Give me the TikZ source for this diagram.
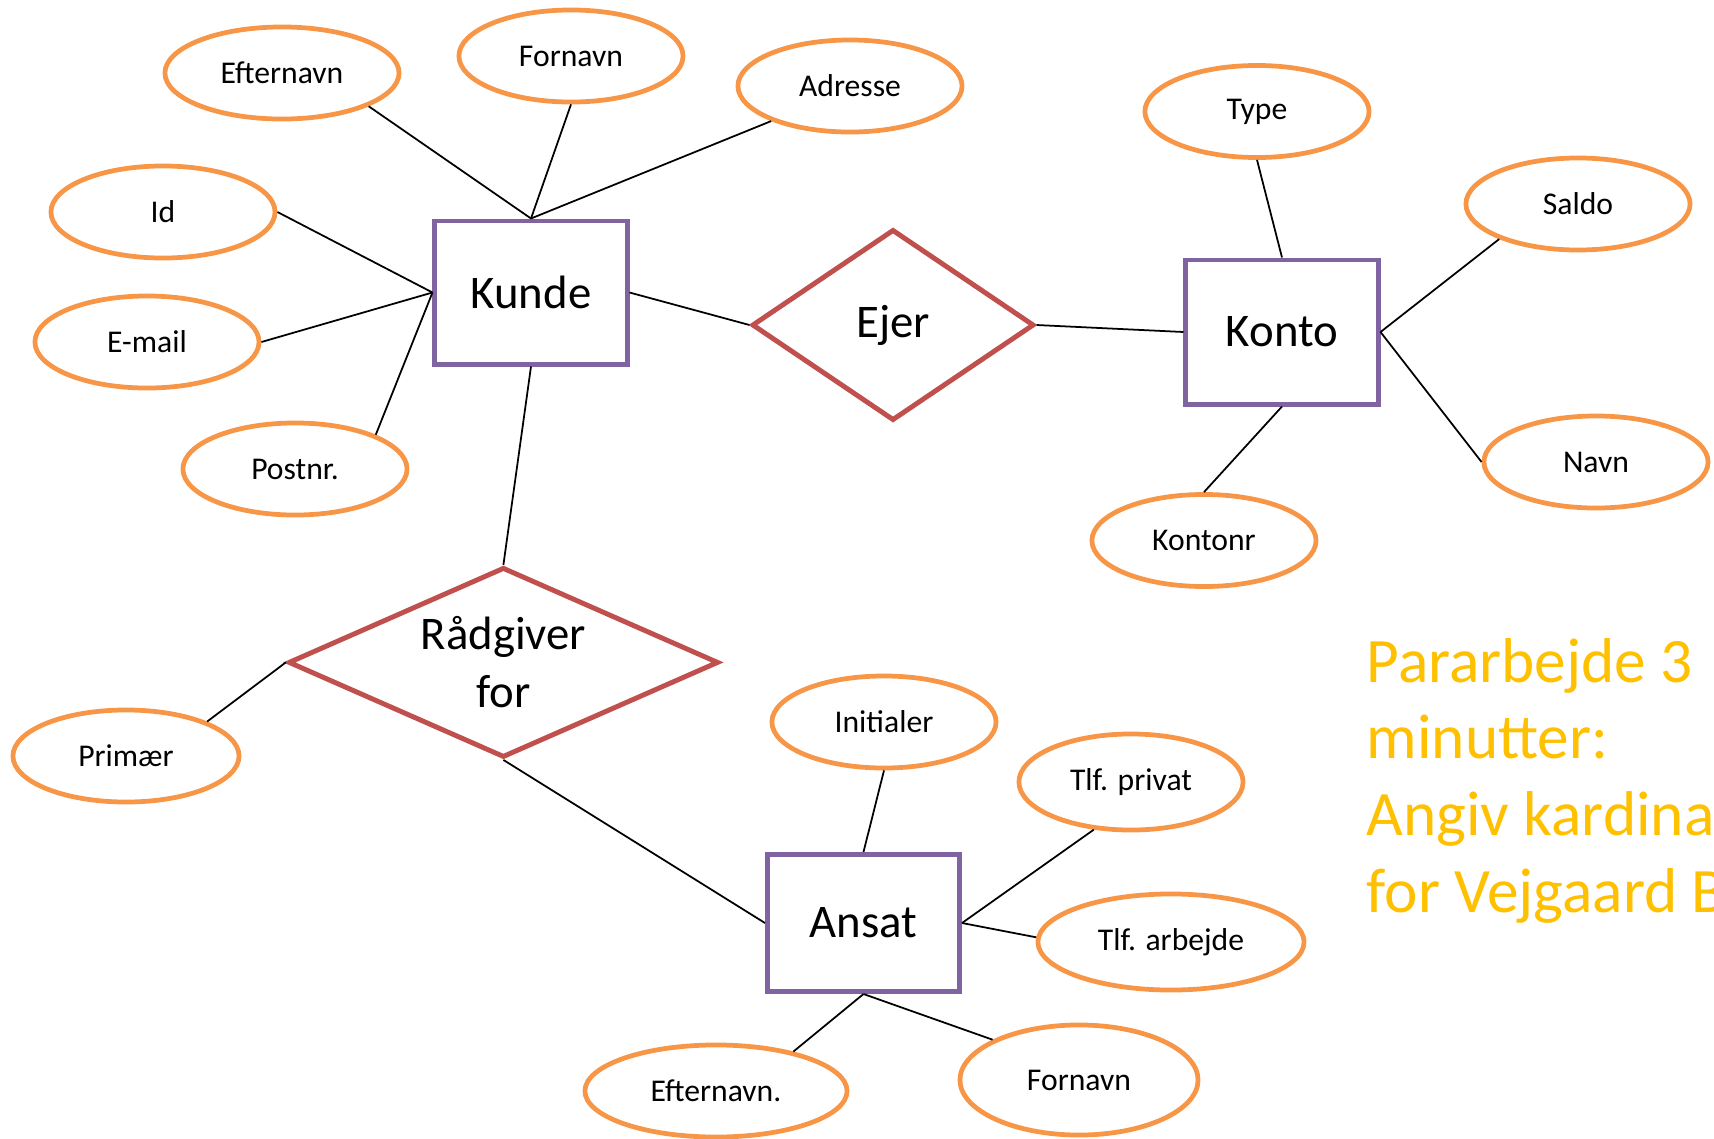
\documentclass[tikz,border=0pt]{standalone}
\usepackage{fontspec}
\setmainfont{Carlito}
\usetikzlibrary{shapes.geometric}
\definecolor{entpurple}{HTML}{8064A2}
\definecolor{relred}{HTML}{C0504D}
\definecolor{attrorange}{HTML}{F79646}
\definecolor{notegold}{HTML}{FFC000}
\tikzset{
  entity/.style={draw=entpurple, line width=1.4pt, minimum width=1.92cm, minimum height=1.43cm, inner sep=0pt, font=\fontsize{13.3}{16}\selectfont},
  relation/.style={diamond, draw=relred, line width=1.4pt, inner sep=0pt, align=center, font=\fontsize{13.3}{16.4}\selectfont},
  attr/.style={ellipse, draw=attrorange, line width=1.35pt, minimum width=2.24cm, minimum height=0.92cm, inner sep=0pt, font=\fontsize{9}{11}\selectfont},
  conn/.style={draw=black, line width=0.5pt},
  note/.style={text=notegold, anchor=base west, inner sep=0pt, font=\fontsize{18}{21.8}\selectfont}
}
\begin{document}
\begin{tikzpicture}[x=0.01cm, y=-0.01cm]
\useasboundingbox (0,0) rectangle (1714,1139);
\begin{scope}
\clip (0,0) rectangle (1714,1139);
% entities
\node[entity] (kunde) at (531,292.5) {Kunde};
\node[entity, minimum height=1.44cm] (konto) at (1282,332) {Konto};
\node[entity, minimum height=1.37cm] (ansat) at (863.5,923) {Ansat};
% relationships
\node[relation, shape aspect=1.5, minimum width=2.82cm, minimum height=1.91cm] (ejer) at (893,325) {Ejer};
\node[relation, shape aspect=2.26, minimum width=4.30cm, minimum height=1.90cm] (rad) at (503.4,662.4) {Rådgiver\\for};
% attributes
\node[attr, minimum width=2.34cm] (ef1) at (282,73) {Efternavn};
\node[attr] (fn1) at (571,56) {Fornavn};
\node[attr] (adr) at (850,86) {Adresse};
\node[attr] (id) at (163,212) {Id};
\node[attr] (email) at (147,342) {E-mail};
\node[attr] (post) at (295,469) {Postnr.};
\node[attr] (type) at (1257,111.5) {Type};
\node[attr] (saldo) at (1578,204) {Saldo};
\node[attr] (navn) at (1596,462) {Navn};
\node[attr] (kontonr) at (1204,540.5) {Kontonr};
\node[attr, minimum width=2.26cm] (prim) at (126,756) {Primær};
\node[attr] (init) at (884,722) {Initialer};
\node[attr, minimum height=0.96cm] (tlfp) at (1131,782) {Tlf. privat};
\node[attr, minimum width=2.66cm, minimum height=0.96cm] (tlfa) at (1171,942) {Tlf. arbejde};
\node[attr, minimum width=2.62cm] (ef2) at (716,1091) {Efternavn.};
\node[attr, minimum width=2.38cm, minimum height=1.10cm] (fn2) at (1079,1080) {Fornavn};
% connectors
\draw[conn] (kunde.north) -- (ef1.-21);
\draw[conn] (kunde.north) -- (fn1.south);
\draw[conn] (kunde.north) -- (adr.-156);
\draw[conn] (kunde.west) -- (id.east);
\draw[conn] (kunde.west) -- (email.east);
\draw[conn] (kunde.west) -- (post.23);
\draw[conn] (kunde.east) -- (ejer.west);
\draw[conn] (ejer.east) -- (konto.west);
\draw[conn] (konto.north) -- (type.south);
\draw[conn] (konto.east) -- (saldo.-156);
\draw[conn] (konto.east) -- (navn.west);
\draw[conn] (konto.south) -- (kontonr.north);
\draw[conn] (kunde.south) -- (rad.north);
\draw[conn] (rad.west) -- (prim.23);
\draw[conn] (rad.south) -- (ansat.west);
\draw[conn] (ansat.north) -- (init.south);
\draw[conn] (ansat.east) -- (tlfp.-128);
\draw[conn] (ansat.east) -- (tlfa.178);
\draw[conn] (ansat.south) -- (ef2.27);
\draw[conn] (ansat.south) -- (fn2.155);
% note text
\node[note] (n1) at (1366,682) {Pararbejde 3};
\node[note] (n2) at (1366,758.7) {minutter:};
\node[note] (n3) at (1366,835.4) {Angiv kardinaliteter};
\node[note] (n4) at (1366,912.1) {for Vejgaard Bank};
\end{scope}
\end{tikzpicture}
\end{document}
